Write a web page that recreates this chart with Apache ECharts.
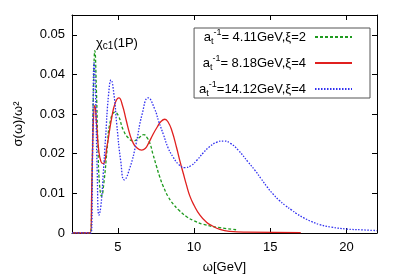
<!DOCTYPE html>
<html><head><meta charset="utf-8">
<script src="https://cdn.jsdelivr.net/npm/echarts@6/dist/echarts.min.js"></script>
<style>html,body{margin:0;padding:0;background:#fff}#c{width:399px;height:279px}</style>
</head><body><div id="c"></div>
<script>
// ---- data ----
const xTicks = [5, 10, 15, 20];
const yTicks = [0, 0.01, 0.02, 0.03, 0.04, 0.05];
const legendNames = ['4.11GeV,ξ=2', '8.18GeV,ξ=4', '14.12GeV,ξ=4'];

const omegaGreen = [2, 3.2, 3.3, 3.4, 3.5, 3.6, 3.7, 3.8, 3.94, 4.1, 4.3, 4.5, 4.82, 5.05, 5.36, 5.69, 6.02, 6.35, 6.72, 6.9, 7.11, 7.3, 7.55, 7.75, 7.98, 8.3, 8.64, 9.0, 9.52, 10.0, 10.6, 11.6, 12.8];
const sigmaGreen = [0, 0, 0.012, 0.035, 0.046, 0.036, 0.022, 0.0125, 0.0093, 0.013, 0.021, 0.028, 0.0305, 0.0295, 0.026, 0.024, 0.0232, 0.0239, 0.0248, 0.0242, 0.0226, 0.020, 0.0167, 0.0142, 0.0118, 0.0092, 0.0073, 0.0058, 0.0041, 0.0031, 0.0022, 0.0014, 0.0008];

const omegaRed = [2, 3.2, 3.3, 3.4, 3.5, 3.6, 3.75, 3.9, 4.05, 4.3, 4.6, 4.85, 5.08, 5.3, 5.55, 5.8, 6.0, 6.2, 6.57, 6.8, 7.0, 7.3, 7.6, 7.85, 8.09, 8.3, 8.55, 8.86, 9.1, 9.3, 9.5, 9.73, 10.0, 10.39, 10.8, 11.15, 11.7, 12.35, 13.5, 17];
const sigmaRed = [0, 0, 0.012, 0.028, 0.0322, 0.028, 0.021, 0.018, 0.0175, 0.022, 0.029, 0.033, 0.0341, 0.0323, 0.0285, 0.0248, 0.0228, 0.0217, 0.0209, 0.0213, 0.0225, 0.0248, 0.0268, 0.0282, 0.0287, 0.028, 0.0258, 0.0215, 0.0178, 0.015, 0.0122, 0.0093, 0.007, 0.0045, 0.0028, 0.0019, 0.0009, 0.0004, 0.0002, 0.0001];

const omegaBlue = [2, 3.25, 3.35, 3.45, 3.55, 3.65, 3.77, 3.9, 4.05, 4.2, 4.4, 4.56, 4.75, 4.93, 5.2, 5.43, 5.8, 6.2, 6.6, 7.0, 7.4, 7.7, 8.0, 8.3, 8.64, 9.0, 9.4, 9.8, 10.2, 10.6, 11.0, 11.5, 11.96, 12.4, 12.9, 13.55, 14.0, 14.4, 14.8, 15.19, 15.6, 16.0, 16.4, 16.72, 17.2, 17.7, 18.25, 19.0, 20.0, 21.0, 22.0];
const sigmaBlue = [0, 0, 0.02, 0.043, 0.034, 0.016, 0.0045, 0.007, 0.015, 0.024, 0.035, 0.0386, 0.035, 0.0276, 0.018, 0.0134, 0.0165, 0.0225, 0.030, 0.0341, 0.0315, 0.028, 0.0248, 0.0215, 0.0191, 0.0173, 0.0165, 0.017, 0.0184, 0.0202, 0.0217, 0.0229, 0.0232, 0.0226, 0.0209, 0.0179, 0.0158, 0.0137, 0.0116, 0.0098, 0.0082, 0.0069, 0.0058, 0.0049, 0.0038, 0.0029, 0.0021, 0.0015, 0.001, 0.0008, 0.0006];

const zip = (xs, ys) => xs.map((x, i) => [x, ys[i]]);
const FONT = 'Liberation Sans';
const colors = ['#1e9a1e', '#e0201f', '#3030f0'];

const chart = echarts.init(document.getElementById('c'), null, {renderer: 'canvas'});
const axisCommon = {
  axisLine: {show: true, onZero: false, lineStyle: {color: '#000', width: 1}},
  axisTick: {show: true, inside: true, length: 5, lineStyle: {color: '#000'}},
  splitLine: {show: false}
};
function mkSeries(name, data, color, type) {
  return {
    name, type: 'line', data, showSymbol: false, symbol: 'none',
    smooth: 0.5, animation: false,
    lineStyle: {color, width: 1.3, type},
    itemStyle: {color}
  };
}
chart.setOption({
  animation: false,
  grid: {left: 72, top: 15, right: 22, bottom: 39, containLabel: false},
  xAxis: [
    Object.assign({}, axisCommon, {
      type: 'value', min: 2, max: 22, position: 'bottom',
      name: 'ω[GeV]', nameLocation: 'middle', nameGap: 28,
      nameTextStyle: {fontFamily: FONT, fontSize: 13, color: '#000'},
      axisTick: Object.assign({}, axisCommon.axisTick, {customValues: xTicks}),
      axisLabel: {customValues: xTicks, fontFamily: FONT, fontSize: 13, color: '#000', margin: 8}
    }),
    Object.assign({}, axisCommon, {
      type: 'value', min: 2, max: 22, position: 'top',
      axisTick: Object.assign({}, axisCommon.axisTick, {customValues: xTicks}),
      axisLabel: {show: false}
    })
  ],
  yAxis: [
    Object.assign({}, axisCommon, {
      type: 'value', min: 0, max: 0.055, position: 'left',
      name: 'σ(ω)/ω²', nameLocation: 'middle', nameGap: 47,
      nameTextStyle: {fontFamily: FONT, fontSize: 13, color: '#000'},
      axisTick: Object.assign({}, axisCommon.axisTick, {customValues: yTicks}),
      axisLabel: {customValues: yTicks, fontFamily: FONT, fontSize: 13, color: '#000', margin: 7,
        formatter: v => v === 0 ? '0' : v.toFixed(2)}
    }),
    Object.assign({}, axisCommon, {
      type: 'value', min: 0, max: 0.055, position: 'right',
      axisTick: Object.assign({}, axisCommon.axisTick, {customValues: yTicks}),
      axisLabel: {show: false}
    })
  ],
  legend: {
    show: true, orient: 'vertical', right: 29, top: 28, align: 'right',
    itemWidth: 37, itemHeight: 14, itemGap: 8,
    padding: [0, 17, 0, 5],
    borderColor: '#555', borderWidth: 1, backgroundColor: '#fff',
    itemStyle: {opacity: 0},
    data: legendNames,
    formatter: name => (name.startsWith('14') ? '{a|a}{s|t}{p|-1}{a|=' + name + '}' : '{a|a}{s|t}{p|-1}{a|= ' + name + '}'),
    textStyle: {
      width: 110, align: 'right', padding: [0, 4, 0, 0],
      rich: {
        a: {fontFamily: FONT, fontSize: 13, color: '#000', lineHeight: 18, verticalAlign: 'middle'},
        s: {fontFamily: FONT, fontSize: 9, color: '#000', lineHeight: 18, verticalAlign: 'bottom'},
        p: {fontFamily: FONT, fontSize: 9, color: '#000', lineHeight: 18, verticalAlign: 'top'}
      }
    }
  },
  graphic: [{
    type: 'text', left: 96, top: 37, silent: true,
    style: {
      text: '{a|χ}{s|c1}{a|(1P)}',
      rich: {
        a: {fontFamily: FONT, fontSize: 13, fill: '#000', lineHeight: 16, verticalAlign: 'middle'},
        s: {fontFamily: FONT, fontSize: 10, fill: '#000', lineHeight: 16, verticalAlign: 'bottom'}
      }
    }
  }],
  series: [
    mkSeries(legendNames[0], zip(omegaGreen, sigmaGreen), colors[0], [3, 2]),
    mkSeries(legendNames[1], zip(omegaRed, sigmaRed), colors[1], 'solid'),
    mkSeries(legendNames[2], zip(omegaBlue, sigmaBlue), colors[2], [1.5, 1.5])
  ]
});
</script></body></html>
